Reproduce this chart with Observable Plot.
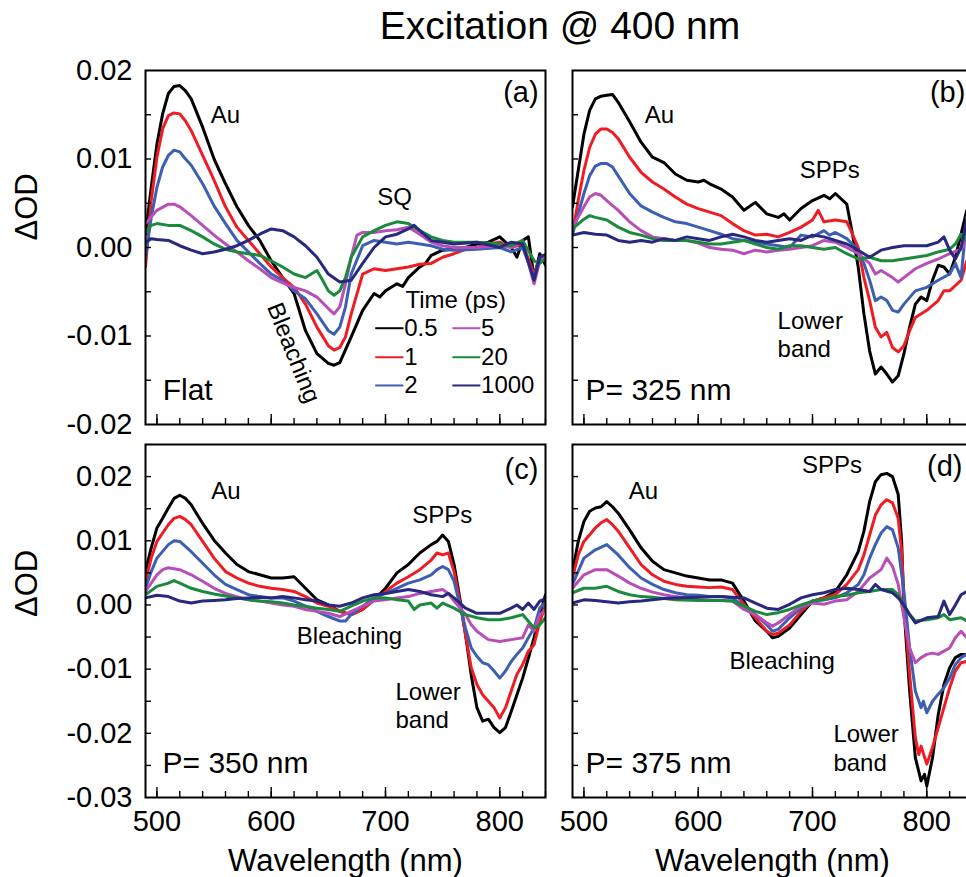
<!DOCTYPE html>
<html><head><meta charset="utf-8">
<script src="https://cdn.jsdelivr.net/npm/d3@7"></script>
<script src="https://cdn.jsdelivr.net/npm/@observablehq/plot@0.6"></script>
<style>
html,body{margin:0;padding:0;background:#fff;}
#fig{position:relative;width:966px;height:877px;overflow:hidden;background:#fff;font-family:"Liberation Sans",Arial,Helvetica,sans-serif;}
#title{position:absolute;left:560px;top:6px;transform:translateX(-50%);font-size:39px;line-height:39px;white-space:nowrap;color:#000;}
.panel{position:absolute;}
</style></head><body>
<div id="fig"><div id="title">Excitation @ 400 nm</div></div>
<script>
// ---- series (delay times) ----
const times = ["0.5","1","2","5","20","1000"];
const colors = ["#000000","#f01c24","#3c5fb4","#b84fb8","#1b8a3c","#27287e"];

// ---- tick values ----
const xMajor = [500,600,700,800];
const xMinor = [500,520,540,560,580,600,620,640,660,680,700,720,740,760,780,800,820,840];
const yTopLabels = [-0.02,-0.01,0,0.01,0.02];
const yTopTicks = [-0.015,-0.01,-0.005,0,0.005,0.01,0.015];
const yBotLabels = [-0.03,-0.02,-0.01,0,0.01,0.02];
const yBotTicks = [-0.025,-0.02,-0.015,-0.01,-0.005,0,0.005,0.01,0.015,0.02];

// ---- panel (a) Flat: [wavelength nm, ΔOD] ----
const a_05 = [[490,0.0015],[495,0.0068],[500,0.0117],[505,0.0151],[510,0.0174],[515,0.0182],[520,0.0183],[525,0.0177],[530,0.0168],[540,0.0136],[550,0.0100],[560,0.0072],[570,0.0046],[580,0.0025],[590,0.0008],[600,-0.0015],[610,-0.0034],[620,-0.0052],[630,-0.0094],[640,-0.0120],[650,-0.0131],[655,-0.0133],[660,-0.0130],[670,-0.0101],[680,-0.0071],[690,-0.0052],[695,-0.0056],[700,-0.0049],[705,-0.0045],[710,-0.0041],[715,-0.0044],[720,-0.0034],[730,-0.0022],[735,-0.0018],[740,-0.0009],[750,-0.0003],[760,-0.0002],[770,0.0000],[780,0.0004],[790,0.0006],[800,0.0012],[810,0.0000],[815,-0.0011],[820,0.0008],[825,0.0012],[830,-0.0034],[835,-0.0007],[840,-0.0020]];
const a_1 = [[490,-0.0022],[495,0.0053],[500,0.0102],[505,0.0134],[510,0.0149],[515,0.0152],[520,0.0151],[525,0.0143],[530,0.0132],[540,0.0104],[550,0.0076],[560,0.0046],[570,0.0023],[580,0.0008],[590,-0.0007],[600,-0.0022],[610,-0.0034],[620,-0.0045],[630,-0.0064],[640,-0.0090],[650,-0.0111],[655,-0.0116],[660,-0.0113],[665,-0.0101],[670,-0.0075],[680,-0.0030],[690,-0.0024],[700,-0.0026],[710,-0.0024],[720,-0.0022],[730,-0.0019],[740,-0.0018],[750,-0.0011],[760,-0.0007],[770,-0.0002],[780,0.0000],[790,0.0004],[800,0.0006],[810,0.0000],[820,0.0004],[830,-0.0030],[835,-0.0015],[840,-0.0010]];
const a_2 = [[490,-0.0012],[495,0.0034],[500,0.0068],[505,0.0091],[510,0.0104],[515,0.0110],[520,0.0108],[525,0.0100],[530,0.0093],[540,0.0072],[550,0.0047],[560,0.0027],[570,0.0008],[580,-0.0005],[590,-0.0018],[600,-0.0030],[610,-0.0037],[620,-0.0049],[630,-0.0058],[640,-0.0075],[650,-0.0094],[655,-0.0098],[660,-0.0090],[665,-0.0067],[670,-0.0030],[680,0.0002],[690,0.0008],[700,0.0006],[710,0.0004],[720,0.0006],[730,0.0004],[740,0.0002],[750,-0.0002],[760,-0.0003],[780,-0.0002],[800,0.0000],[810,-0.0005],[820,0.0000],[830,-0.0034],[835,-0.0011],[840,-0.0008]];
const a_5 = [[490,0.0027],[500,0.0042],[510,0.0049],[515,0.0049],[520,0.0046],[530,0.0036],[540,0.0025],[550,0.0014],[560,0.0004],[570,-0.0005],[580,-0.0015],[590,-0.0024],[600,-0.0034],[610,-0.0040],[620,-0.0045],[630,-0.0049],[640,-0.0056],[650,-0.0069],[655,-0.0075],[660,-0.0067],[665,-0.0041],[670,-0.0011],[675,0.0014],[680,0.0017],[690,0.0017],[700,0.0019],[710,0.0020],[720,0.0023],[730,0.0015],[740,0.0006],[750,0.0002],[760,0.0000],[780,0.0000],[800,0.0002],[810,0.0000],[820,0.0006],[830,-0.0041],[835,-0.0015],[840,-0.0010]];
const a_20 = [[490,0.0017],[495,0.0025],[500,0.0027],[510,0.0025],[520,0.0025],[530,0.0019],[540,0.0012],[550,0.0004],[560,-0.0002],[570,-0.0005],[580,-0.0007],[590,-0.0009],[600,-0.0015],[610,-0.0022],[620,-0.0030],[630,-0.0034],[640,-0.0026],[645,-0.0037],[650,-0.0049],[655,-0.0054],[660,-0.0049],[665,-0.0034],[670,-0.0011],[680,0.0012],[690,0.0019],[700,0.0025],[710,0.0029],[720,0.0027],[730,0.0019],[740,0.0012],[750,0.0008],[760,0.0006],[780,0.0006],[800,0.0004],[810,0.0002],[820,0.0008],[830,-0.0015],[835,-0.0018],[840,-0.0012]];
const a_1000 = [[490,0.0006],[495,0.0010],[500,0.0009],[510,0.0008],[520,0.0002],[530,-0.0003],[540,-0.0007],[550,-0.0005],[560,-0.0002],[570,0.0002],[580,0.0008],[590,0.0015],[600,0.0021],[610,0.0019],[620,0.0012],[630,0.0002],[640,-0.0011],[650,-0.0030],[660,-0.0039],[670,-0.0037],[680,-0.0018],[690,0.0000],[700,0.0012],[710,0.0015],[720,0.0021],[725,0.0025],[730,0.0019],[740,0.0008],[750,0.0006],[760,0.0004],[780,0.0006],[800,0.0000],[810,0.0006],[820,0.0004],[830,-0.0037],[835,-0.0011],[840,-0.0008]];

// ---- panel (b) P = 325 nm ----
const b_05 = [[490,0.0046],[495,0.0087],[500,0.0128],[505,0.0155],[510,0.0168],[515,0.0171],[520,0.0172],[525,0.0173],[530,0.0164],[535,0.0153],[540,0.0142],[550,0.0119],[560,0.0102],[570,0.0096],[580,0.0083],[590,0.0076],[600,0.0074],[605,0.0076],[610,0.0072],[620,0.0066],[630,0.0057],[640,0.0042],[650,0.0051],[660,0.0038],[670,0.0034],[675,0.0038],[680,0.0031],[690,0.0044],[700,0.0053],[710,0.0059],[715,0.0055],[720,0.0061],[730,0.0049],[735,0.0015],[740,-0.0022],[745,-0.0075],[750,-0.0117],[755,-0.0143],[760,-0.0135],[765,-0.0143],[770,-0.0152],[775,-0.0145],[780,-0.0120],[785,-0.0090],[790,-0.0064],[795,-0.0056],[800,-0.0060],[805,-0.0037],[810,-0.0020],[815,-0.0022],[820,-0.0030],[825,-0.0011],[830,0.0015],[835,0.0042],[840,0.0046]];
const b_1 = [[490,0.0015],[495,0.0053],[500,0.0087],[505,0.0113],[510,0.0128],[515,0.0134],[520,0.0134],[525,0.0130],[530,0.0123],[540,0.0102],[550,0.0085],[560,0.0074],[570,0.0066],[580,0.0057],[590,0.0049],[600,0.0044],[610,0.0040],[620,0.0036],[630,0.0027],[640,0.0019],[650,0.0014],[660,0.0015],[670,0.0012],[680,0.0017],[690,0.0023],[700,0.0031],[705,0.0042],[710,0.0029],[720,0.0031],[730,0.0029],[735,0.0015],[740,0.0000],[745,-0.0034],[750,-0.0060],[755,-0.0090],[760,-0.0101],[765,-0.0096],[770,-0.0113],[775,-0.0118],[780,-0.0111],[785,-0.0094],[790,-0.0079],[800,-0.0071],[810,-0.0060],[815,-0.0049],[820,-0.0049],[830,-0.0037],[835,-0.0015],[840,-0.0010]];
const b_2 = [[490,0.0015],[495,0.0038],[500,0.0061],[505,0.0081],[510,0.0092],[515,0.0095],[520,0.0095],[525,0.0091],[530,0.0081],[540,0.0061],[550,0.0047],[560,0.0040],[570,0.0034],[580,0.0029],[590,0.0027],[600,0.0023],[610,0.0019],[620,0.0015],[630,0.0010],[640,0.0008],[650,0.0006],[660,0.0004],[670,0.0002],[680,0.0000],[690,0.0014],[700,0.0012],[710,0.0019],[715,0.0014],[720,0.0017],[730,0.0010],[740,-0.0003],[745,-0.0018],[750,-0.0037],[755,-0.0060],[760,-0.0056],[765,-0.0060],[770,-0.0071],[775,-0.0073],[780,-0.0064],[790,-0.0049],[800,-0.0045],[810,-0.0037],[820,-0.0030],[825,-0.0018],[830,-0.0034],[835,0.0034],[840,0.0030]];
const b_5 = [[490,0.0023],[500,0.0046],[505,0.0057],[510,0.0061],[515,0.0059],[520,0.0053],[530,0.0042],[540,0.0029],[550,0.0019],[560,0.0012],[570,0.0010],[580,0.0008],[590,0.0008],[600,0.0005],[610,0.0000],[620,-0.0002],[630,-0.0003],[640,-0.0007],[650,-0.0003],[660,-0.0005],[670,-0.0003],[680,-0.0002],[690,0.0000],[700,0.0002],[710,0.0008],[720,0.0006],[730,0.0000],[740,-0.0007],[750,-0.0018],[755,-0.0030],[760,-0.0026],[770,-0.0034],[775,-0.0039],[780,-0.0034],[790,-0.0024],[800,-0.0018],[810,-0.0013],[820,-0.0007],[830,-0.0002],[835,0.0008],[840,0.0010]];
const b_20 = [[490,0.0021],[500,0.0032],[505,0.0036],[510,0.0034],[520,0.0031],[530,0.0023],[540,0.0017],[550,0.0014],[560,0.0010],[570,0.0008],[580,0.0008],[590,0.0008],[600,0.0006],[610,0.0004],[620,0.0004],[630,0.0006],[640,0.0008],[650,0.0004],[660,0.0000],[670,-0.0002],[680,0.0002],[690,0.0002],[700,0.0000],[710,-0.0002],[720,0.0000],[730,-0.0007],[740,-0.0013],[750,-0.0011],[760,-0.0015],[770,-0.0015],[780,-0.0013],[790,-0.0011],[800,-0.0009],[810,-0.0005],[820,-0.0002],[825,0.0004],[830,0.0015],[835,0.0008],[840,0.0010]];
const b_1000 = [[490,0.0014],[500,0.0017],[510,0.0015],[520,0.0014],[530,0.0008],[540,0.0006],[550,0.0008],[560,0.0006],[570,0.0010],[580,0.0008],[590,0.0012],[600,0.0010],[610,0.0008],[620,0.0012],[630,0.0015],[640,0.0012],[650,0.0008],[660,0.0006],[670,0.0008],[680,0.0010],[690,0.0008],[700,0.0014],[710,0.0012],[720,0.0008],[730,0.0004],[740,-0.0003],[750,-0.0011],[760,-0.0003],[770,0.0000],[780,0.0002],[790,0.0002],[800,0.0002],[810,0.0006],[815,0.0012],[820,-0.0003],[825,-0.0013],[830,0.0000],[835,0.0031],[840,0.0030]];

// ---- panel (c) P = 350 nm ----
const c_05 = [[490,0.0052],[495,0.0089],[500,0.0120],[505,0.0135],[510,0.0151],[515,0.0166],[520,0.0171],[525,0.0166],[530,0.0156],[540,0.0127],[550,0.0101],[560,0.0081],[570,0.0063],[580,0.0052],[590,0.0047],[600,0.0042],[610,0.0042],[620,0.0044],[630,0.0026],[640,0.0008],[650,0.0000],[660,-0.0010],[670,-0.0015],[680,-0.0007],[690,0.0008],[700,0.0026],[710,0.0050],[720,0.0063],[730,0.0081],[740,0.0094],[745,0.0099],[750,0.0109],[755,0.0099],[760,0.0063],[765,0.0011],[770,-0.0046],[775,-0.0109],[780,-0.0160],[785,-0.0181],[790,-0.0178],[795,-0.0191],[800,-0.0199],[805,-0.0191],[810,-0.0166],[815,-0.0140],[820,-0.0114],[825,-0.0083],[830,-0.0051],[835,-0.0015],[840,0.0016]];
const c_1 = [[490,0.0037],[495,0.0073],[500,0.0099],[510,0.0125],[515,0.0135],[520,0.0138],[525,0.0133],[530,0.0125],[540,0.0099],[550,0.0073],[560,0.0052],[570,0.0042],[580,0.0034],[590,0.0029],[600,0.0026],[610,0.0024],[620,0.0021],[630,0.0013],[640,0.0003],[650,-0.0002],[660,-0.0010],[670,-0.0015],[680,-0.0007],[690,0.0008],[700,0.0021],[710,0.0034],[720,0.0044],[730,0.0055],[740,0.0070],[745,0.0081],[750,0.0078],[755,0.0081],[760,0.0052],[765,0.0006],[770,-0.0046],[775,-0.0098],[780,-0.0124],[785,-0.0140],[790,-0.0150],[795,-0.0160],[800,-0.0176],[805,-0.0160],[810,-0.0134],[815,-0.0108],[820,-0.0093],[825,-0.0072],[830,-0.0062],[835,-0.0026],[840,0.0000]];
const c_2 = [[490,0.0026],[495,0.0052],[500,0.0073],[510,0.0094],[515,0.0100],[520,0.0099],[530,0.0083],[540,0.0065],[550,0.0047],[560,0.0032],[570,0.0024],[580,0.0016],[590,0.0013],[600,0.0011],[610,0.0011],[620,0.0006],[630,-0.0002],[640,-0.0010],[650,-0.0018],[660,-0.0025],[665,-0.0025],[670,-0.0015],[680,-0.0002],[690,0.0011],[700,0.0018],[710,0.0026],[720,0.0034],[730,0.0039],[740,0.0047],[745,0.0055],[750,0.0060],[755,0.0055],[760,0.0037],[765,0.0000],[770,-0.0036],[775,-0.0067],[780,-0.0080],[785,-0.0090],[790,-0.0093],[795,-0.0103],[800,-0.0114],[805,-0.0103],[810,-0.0088],[815,-0.0077],[820,-0.0067],[825,-0.0051],[830,-0.0036],[835,-0.0005],[840,0.0004]];
const c_5 = [[490,0.0021],[500,0.0047],[505,0.0055],[510,0.0058],[520,0.0055],[530,0.0047],[540,0.0037],[550,0.0026],[560,0.0018],[570,0.0013],[580,0.0008],[590,0.0006],[600,0.0003],[610,0.0000],[620,-0.0002],[630,-0.0007],[640,-0.0010],[650,-0.0013],[660,-0.0018],[670,-0.0010],[680,-0.0002],[690,0.0006],[700,0.0008],[710,0.0011],[720,0.0013],[730,0.0018],[740,0.0021],[750,0.0024],[755,0.0018],[760,0.0006],[770,-0.0015],[775,-0.0031],[780,-0.0041],[790,-0.0054],[800,-0.0057],[810,-0.0054],[820,-0.0051],[825,-0.0031],[830,-0.0041],[835,-0.0015],[840,-0.0008]];
const c_20 = [[490,0.0016],[500,0.0029],[510,0.0034],[515,0.0038],[520,0.0034],[530,0.0026],[540,0.0021],[550,0.0017],[560,0.0014],[570,0.0011],[580,0.0008],[590,0.0006],[600,0.0005],[610,0.0003],[620,0.0000],[630,-0.0002],[640,-0.0005],[650,-0.0007],[660,-0.0010],[670,-0.0002],[680,0.0006],[690,0.0011],[700,0.0011],[710,0.0008],[720,0.0006],[725,-0.0007],[730,0.0000],[740,0.0003],[745,-0.0005],[750,0.0003],[760,-0.0005],[770,-0.0015],[780,-0.0020],[790,-0.0023],[800,-0.0023],[810,-0.0020],[820,-0.0015],[830,-0.0036],[835,-0.0031],[840,-0.0020]];
const c_1000 = [[490,0.0011],[500,0.0015],[510,0.0013],[520,0.0006],[530,0.0003],[540,0.0006],[550,0.0007],[560,0.0008],[570,0.0010],[580,0.0011],[590,0.0012],[600,0.0011],[610,0.0013],[620,0.0011],[630,0.0008],[640,0.0006],[650,0.0000],[660,-0.0002],[670,0.0003],[680,0.0011],[690,0.0016],[700,0.0018],[710,0.0021],[720,0.0024],[730,0.0021],[740,0.0016],[750,0.0013],[755,0.0018],[760,0.0011],[770,-0.0005],[780,-0.0013],[790,-0.0013],[800,-0.0013],[810,-0.0005],[815,0.0000],[820,-0.0007],[825,0.0003],[830,-0.0007],[835,0.0006],[840,0.0010]];

// ---- panel (d) P = 375 nm ----
const d_05 = [[490,0.0052],[495,0.0099],[500,0.0130],[505,0.0146],[510,0.0151],[515,0.0153],[520,0.0161],[525,0.0153],[530,0.0143],[540,0.0117],[550,0.0089],[560,0.0068],[570,0.0055],[580,0.0050],[590,0.0045],[600,0.0042],[610,0.0039],[620,0.0039],[630,0.0034],[640,0.0006],[650,-0.0025],[660,-0.0041],[665,-0.0051],[670,-0.0049],[680,-0.0036],[690,-0.0015],[700,0.0006],[710,0.0011],[720,0.0021],[730,0.0047],[740,0.0083],[745,0.0115],[750,0.0161],[755,0.0192],[760,0.0203],[765,0.0205],[770,0.0200],[775,0.0172],[778,0.0099],[780,-0.0005],[785,-0.0134],[790,-0.0238],[795,-0.0274],[798,-0.0264],[800,-0.0282],[805,-0.0238],[810,-0.0171],[815,-0.0124],[820,-0.0098],[825,-0.0082],[830,-0.0077],[835,-0.0077],[840,-0.0075]];
const d_1 = [[490,0.0042],[495,0.0078],[500,0.0099],[510,0.0120],[515,0.0128],[520,0.0133],[525,0.0125],[530,0.0115],[540,0.0089],[550,0.0063],[560,0.0047],[570,0.0037],[580,0.0032],[590,0.0029],[600,0.0028],[610,0.0027],[620,0.0028],[630,0.0024],[640,0.0001],[650,-0.0020],[660,-0.0041],[665,-0.0046],[670,-0.0044],[680,-0.0031],[690,-0.0010],[700,0.0006],[710,0.0011],[720,0.0016],[730,0.0032],[740,0.0055],[745,0.0078],[750,0.0109],[755,0.0140],[760,0.0156],[765,0.0164],[770,0.0159],[775,0.0135],[778,0.0083],[780,0.0006],[785,-0.0108],[790,-0.0207],[793,-0.0233],[795,-0.0220],[800,-0.0248],[805,-0.0222],[810,-0.0191],[815,-0.0160],[820,-0.0129],[825,-0.0103],[830,-0.0090],[835,-0.0088],[840,-0.0085]];
const d_2 = [[490,0.0032],[500,0.0073],[510,0.0086],[520,0.0094],[530,0.0078],[540,0.0058],[550,0.0042],[560,0.0032],[570,0.0024],[580,0.0019],[590,0.0016],[600,0.0015],[610,0.0013],[620,0.0013],[630,0.0011],[640,-0.0002],[650,-0.0015],[660,-0.0031],[665,-0.0041],[670,-0.0038],[680,-0.0020],[690,-0.0005],[700,0.0006],[710,0.0008],[720,0.0011],[730,0.0019],[740,0.0032],[745,0.0047],[750,0.0073],[755,0.0094],[760,0.0112],[765,0.0122],[770,0.0117],[775,0.0089],[780,0.0021],[785,-0.0067],[790,-0.0134],[795,-0.0160],[797,-0.0150],[800,-0.0168],[805,-0.0150],[810,-0.0139],[815,-0.0129],[820,-0.0114],[825,-0.0093],[830,-0.0082],[835,-0.0077],[840,-0.0075]];
const d_5 = [[490,0.0026],[500,0.0047],[510,0.0055],[520,0.0055],[530,0.0045],[540,0.0034],[550,0.0026],[560,0.0020],[570,0.0016],[580,0.0013],[590,0.0011],[600,0.0008],[610,0.0007],[620,0.0007],[630,0.0006],[640,-0.0007],[650,-0.0015],[660,-0.0028],[665,-0.0033],[670,-0.0028],[680,-0.0015],[690,-0.0002],[700,0.0003],[710,0.0001],[720,0.0006],[730,0.0008],[740,0.0021],[750,0.0042],[760,0.0055],[765,0.0073],[770,0.0060],[775,0.0032],[780,-0.0020],[785,-0.0067],[790,-0.0090],[795,-0.0082],[800,-0.0077],[805,-0.0075],[810,-0.0077],[815,-0.0072],[820,-0.0067],[825,-0.0051],[830,-0.0041],[835,-0.0051],[840,-0.0045]];
const d_20 = [[490,0.0019],[500,0.0026],[510,0.0026],[520,0.0029],[530,0.0021],[540,0.0016],[550,0.0013],[560,0.0012],[570,0.0010],[580,0.0008],[600,0.0007],[620,0.0007],[630,0.0006],[640,-0.0002],[650,-0.0010],[660,-0.0015],[670,-0.0012],[680,-0.0007],[690,0.0000],[700,0.0006],[710,0.0008],[720,0.0013],[730,0.0015],[740,0.0019],[750,0.0021],[760,0.0024],[770,0.0024],[775,0.0016],[780,-0.0002],[785,-0.0015],[790,-0.0025],[800,-0.0023],[810,-0.0020],[815,-0.0015],[820,-0.0023],[830,-0.0020],[835,-0.0025],[840,-0.0022]];
const d_1000 = [[490,0.0003],[500,0.0008],[510,0.0007],[520,0.0005],[530,0.0003],[540,0.0005],[550,0.0006],[560,0.0008],[570,0.0010],[580,0.0011],[600,0.0012],[620,0.0013],[630,0.0012],[640,0.0011],[650,0.0003],[660,-0.0005],[670,-0.0007],[680,0.0001],[690,0.0011],[700,0.0016],[710,0.0019],[720,0.0024],[730,0.0026],[740,0.0024],[750,0.0021],[755,0.0032],[760,0.0024],[770,0.0019],[775,0.0011],[780,0.0000],[785,-0.0015],[790,-0.0028],[800,-0.0020],[810,-0.0018],[815,0.0006],[820,-0.0015],[825,0.0000],[830,0.0016],[835,0.0021],[840,0.0020]];

// ---------------------------------------------------------------
const FONT = '"Liberation Sans", Arial, Helvetica, sans-serif';
const PLOT_W = 400;

function toRows(seriesList) {
  const rows = [];
  seriesList.forEach((s, i) => s.forEach(([w, v]) => rows.push({w, v, t: times[i]})));
  return rows;
}

function makePanel(cfg) {
  const height = cfg.marginTop + cfg.plotH + cfg.marginBottom;
  const marks = [
    Plot.line(toRows(cfg.series), {x: "w", y: "v", z: "t", stroke: "t", strokeWidth: 3, strokeLinejoin: "round", clip: true}),
    Plot.tickX(xMinor, {x: d => d, insetTop: cfg.plotH - 6, stroke: "#000", strokeWidth: 1.4}),
    Plot.tickX(xMajor, {x: d => d, insetTop: cfg.plotH - 10, stroke: "#000", strokeWidth: 1.4}),
    Plot.tickY(cfg.yTicks, {y: d => d, insetRight: PLOT_W - 6, stroke: "#000", strokeWidth: 1.4}),
    Plot.frame({stroke: "#000", strokeWidth: 2})
  ];
  if (cfg.yLabels) {
    marks.push(Plot.axisY(cfg.yLabels, {anchor: "left", tickSize: 0, tickPadding: 13, fontSize: 29, tickFormat: d => d.toFixed(2), label: null, fill: "#000"}));
    marks.push(Plot.text(["ΔOD"], {text: d => d, frameAnchor: "left", dx: -118, dy: cfg.yLabelDy, rotate: -90, fontSize: 31, fill: "#000"}));
  }
  if (cfg.xLabels) {
    marks.push(Plot.axisX(xMajor, {anchor: "bottom", tickSize: 0, tickPadding: 13, fontSize: 29, tickFormat: d => String(d), label: null, fill: "#000"}));
    marks.push(Plot.text(["Wavelength (nm)"], {text: d => d, frameAnchor: "bottom", lineAnchor: "top", dy: 51, fontSize: 31, fill: "#000"}));
  }
  for (const a of cfg.ann) {
    marks.push(Plot.text([a], {x: "x", y: "y", text: "text", textAnchor: a.anchor, fontSize: a.size, rotate: a.rotate || 0, fill: "#000"}));
  }
  if (cfg.legend) {
    const L = cfg.legend;
    const items = times.map((t, i) => ({t, col: Math.floor(i / 3), row: i % 3}));
    marks.push(Plot.link(items, {x1: d => L.x0[d.col], x2: d => L.x1[d.col], y1: d => L.rows[d.row], y2: d => L.rows[d.row], stroke: "t", strokeWidth: 2}));
    marks.push(Plot.text(items, {x: d => L.tx[d.col], y: d => L.rows[d.row], text: "t", textAnchor: "start", fontSize: 24, fill: "#000"}));
    marks.push(Plot.text([L.title], {x: L.titleX, y: L.titleY, text: d => d, textAnchor: "start", fontSize: 24, fill: "#000"}));
  }
  const svg = Plot.plot({
    width: cfg.width, height,
    marginLeft: cfg.marginLeft, marginRight: cfg.marginRight,
    marginTop: cfg.marginTop, marginBottom: cfg.marginBottom,
    style: {background: "transparent", fontFamily: FONT, color: "#000", overflow: "visible"},
    x: {domain: [490, 840], axis: null},
    y: {domain: cfg.yDomain, axis: null},
    color: {domain: times, range: colors},
    marks
  });
  svg.classList.add("panel");
  svg.style.position = "absolute";
  svg.style.left = cfg.left + "px";
  svg.style.top = cfg.top + "px";
  document.getElementById("fig").appendChild(svg);
}

const topRow = {top: 40, marginTop: 30, plotH: 354, marginBottom: 10, yDomain: [-0.02, 0.02], yTicks: yTopTicks, yLabelDy: -7};
const botRow = {top: 434, marginTop: 10, plotH: 353, marginBottom: 80, yDomain: [-0.03, 0.025], yTicks: yBotTicks, yLabelDy: -4};
const leftCol = {left: 0, width: 560, marginLeft: 145, marginRight: 15};
const rightCol = {left: 560, width: 420, marginLeft: 12, marginRight: 8};

makePanel({...topRow, ...leftCol, series: [a_05, a_1, a_2, a_5, a_20, a_1000], yLabels: yTopLabels, xLabels: false,
  ann: [
    {text: "Au", x: 560, y: 0.0149, anchor: "middle", size: 24},
    {text: "SQ", x: 708, y: 0.0057, anchor: "middle", size: 24},
    {text: "Bleaching", x: 619.5, y: -0.0119, anchor: "middle", size: 24, rotate: 68},
    {text: "Flat", x: 505, y: -0.0161, anchor: "start", size: 30},
    {text: "(a)", x: 834, y: 0.0175, anchor: "end", size: 29}
  ],
  legend: {title: "Time (ps)", titleX: 717.5, titleY: -0.0060, rows: [-0.00912, -0.0124, -0.01559], x0: [691, 758.5], x1: [715.7, 783], tx: [716.3, 783.6]}
});
makePanel({...topRow, ...rightCol, series: [b_05, b_1, b_2, b_5, b_20, b_1000], yLabels: null, xLabels: false,
  ann: [
    {text: "Au", x: 566, y: 0.0149, anchor: "middle", size: 24},
    {text: "SPPs", x: 715, y: 0.0087, anchor: "middle", size: 24},
    {text: "Lower", x: 669.4, y: -0.0083, anchor: "start", size: 24},
    {text: "band", x: 669.4, y: -0.0115, anchor: "start", size: 24},
    {text: "P= 325 nm", x: 501.4, y: -0.0161, anchor: "start", size: 30},
    {text: "(b)", x: 833.8, y: 0.0175, anchor: "end", size: 29}
  ]
});
makePanel({...botRow, ...leftCol, series: [c_05, c_1, c_2, c_5, c_20, c_1000], yLabels: yBotLabels, xLabels: true,
  ann: [
    {text: "Au", x: 560.4, y: 0.0177, anchor: "middle", size: 24},
    {text: "SPPs", x: 749.6, y: 0.0139, anchor: "middle", size: 24},
    {text: "Bleaching", x: 668.5, y: -0.0049, anchor: "middle", size: 24},
    {text: "Lower", x: 708.7, y: -0.0136, anchor: "start", size: 24},
    {text: "band", x: 708.7, y: -0.0180, anchor: "start", size: 24},
    {text: "P= 350 nm", x: 504.9, y: -0.0247, anchor: "start", size: 30},
    {text: "(c)", x: 833.8, y: 0.0211, anchor: "end", size: 29}
  ]
});
makePanel({...botRow, ...rightCol, series: [d_05, d_1, d_2, d_5, d_20, d_1000], yLabels: null, xLabels: true,
  ann: [
    {text: "Au", x: 552, y: 0.0177, anchor: "middle", size: 24},
    {text: "SPPs", x: 717, y: 0.0217, anchor: "middle", size: 24},
    {text: "Bleaching", x: 673.5, y: -0.0088, anchor: "middle", size: 24},
    {text: "Lower", x: 718.3, y: -0.0202, anchor: "start", size: 24},
    {text: "band", x: 718.3, y: -0.0247, anchor: "start", size: 24},
    {text: "P= 375 nm", x: 501.4, y: -0.0247, anchor: "start", size: 30},
    {text: "(d)", x: 831.2, y: 0.0216, anchor: "end", size: 29}
  ]
});
</script>
</body></html>
